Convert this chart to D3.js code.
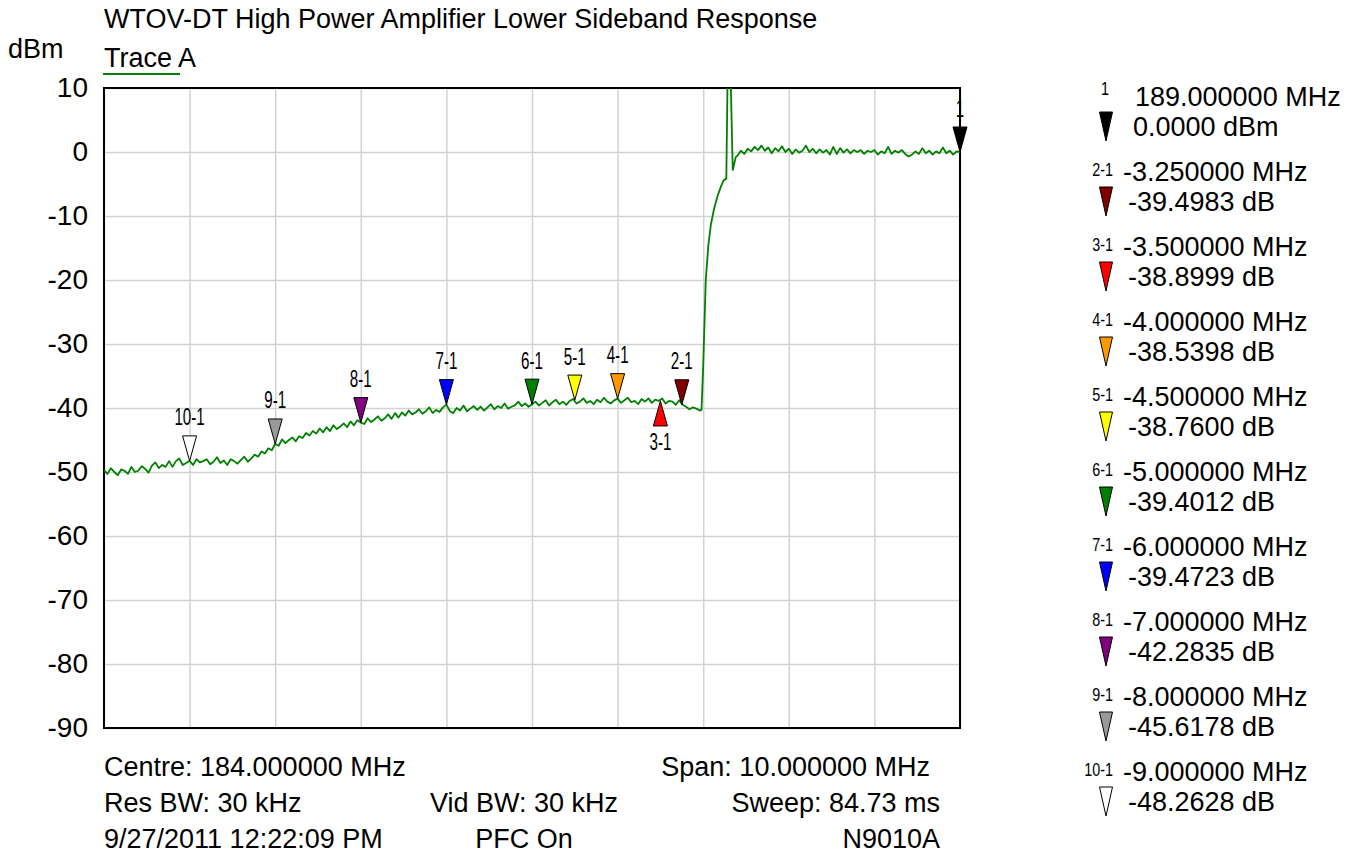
<!DOCTYPE html>
<html>
<head>
<meta charset="utf-8">
<script src="https://cdn.jsdelivr.net/npm/d3@7/dist/d3.min.js"></script>
<style>
  body { margin: 0; background: #fff; }
  svg text { font-family: "Liberation Sans", Arial, sans-serif; fill: #000; }
</style>
</head>
<body>
<div id="chart"></div>
<script>
/* trace A, dBm, one value every 0.04 MHz from 179.00 to 185.96 MHz */
var lowerBand = [
  -49.7, -50.3, -49.4, -50.0, -50.5, -49.6, -49.8, -50.3, -49.2, -50.0,
  -49.8, -49.1, -49.5, -50.1, -49.0, -48.5, -49.4, -48.9, -49.2, -48.3,
  -49.2, -48.3, -47.9, -48.9, -48.6, -48.26, -48.9, -48.0, -48.5, -48.3,
  -48.0, -48.8, -48.4, -47.7, -48.6, -48.2, -48.9, -48.0, -48.3, -48.7,
  -48.1, -47.6, -48.4, -47.9, -47.3, -47.6, -46.8, -47.1, -46.3, -46.6,
  -45.62, -45.9, -44.9, -45.5, -45.0, -44.6, -45.2, -44.4, -44.7, -43.9,
  -44.3, -43.6, -44.0, -43.2, -43.8, -43.0, -43.6, -42.7, -43.3, -42.9,
  -42.4, -43.0, -42.1, -42.7, -41.9, -42.28, -42.5, -41.6, -42.2, -41.8,
  -41.3, -42.0, -41.6, -41.0, -41.7, -40.8, -41.5, -40.7, -41.2, -40.4,
  -41.0, -40.7, -40.2, -40.9, -40.5, -39.9, -40.8, -40.3, -40.6, -39.9,
  -39.47, -40.5, -40.8, -40.0, -40.4, -39.6, -40.5, -40.1, -39.7, -40.3,
  -39.8, -40.4, -39.9, -39.4, -40.2, -39.7, -40.0, -39.3, -40.1, -39.8,
  -39.6, -39.0, -39.7, -39.3, -39.8, -39.40, -39.0, -39.6, -39.2, -38.8,
  -39.6, -39.1, -38.7, -39.4, -39.0, -39.5, -38.9, -38.6, -39.3, -39.0,
  -38.5, -39.2, -38.9, -39.4, -38.7, -39.1, -38.4, -39.0, -39.3, -38.8,
  -38.54, -39.2, -38.8, -38.4, -39.1, -38.9, -39.4, -38.6, -39.0, -38.5,
  -39.2, -38.7, -38.9, -38.5, -39.3, -38.9, -39.0, -39.5, -38.8, -39.5,
  -39.8, -40.2, -39.9, -40.1, -40.4
]

/* the sideband edge and the pilot spike, MHz / dBm pairs */
var edgeFreqs = [185.98, 186.00, 186.03, 186.06, 186.09, 186.13, 186.17, 186.21,
                 186.24, 186.27, 186.285, 186.32, 186.345, 186.36, 186.38]
var edgeLevels = [-40.3, -33.5, -20.0, -14.6, -11.3, -8.7, -6.8, -5.3,
                  -4.4, -4.2, 12, 12, -2.8, -2.0, -0.8]

/* trace A, dBm, one value every 0.04 MHz from 186.40 to 189.00 MHz */
var upperBand = [
  -0.6, 0.2, -0.3, 0.5, 0.1, 0.8, 0.3, 1.0, 0.2, 0.7,
  -0.2, 0.6, 0.1, 0.9, 0.0, 0.5, -0.3, 0.4, -0.1, 0.2,
  1.0, 0.0, 0.5, -0.2, 0.4, -0.1, 0.3, -0.4, 0.8, -0.3,
  0.6, -0.1, 0.4, -0.2, 0.3, 0.0, 0.3, -0.3, 0.2, 0.0,
  0.3, -0.4, 0.1, -0.2, 0.8, -0.3, 0.2, -0.1, 0.3, -0.3,
  -0.7, -0.4, 0.1, -0.3, 0.6, -0.2, 0.2, -0.4, 0.1, -0.2,
  0.7, -0.2, 0.2, -0.4, 0.1, 0.0
]

/* markers: marker 1 is the reference, the rest are deltas to it */
var markerNames = ["1", "2-1", "3-1", "4-1", "5-1", "6-1", "7-1", "8-1", "9-1", "10-1"]
var markerFreqs = [189.0, 185.75, 185.5, 185.0, 184.5, 184.0, 183.0, 182.0, 181.0, 180.0]
var markerLevels = [0.0, -39.4983, -38.8999, -38.5398, -38.7600, -39.4012, -39.4723, -42.2835, -45.6178, -48.2628]
var markerColors = ["#000000", "#800000", "#ff0000", "#ff9900", "#ffff00", "#008000", "#0000ff", "#800080", "#999999", "#ffffff"]
var markersBelow = ["3-1"]

var yTicks = [10, 0, -10, -20, -30, -40, -50, -60, -70, -80, -90]
var xGridFreqs = [179, 180, 181, 182, 183, 184, 185, 186, 187, 188, 189]

var titleText = "WTOV-DT High Power Amplifier Lower Sideband Response"
var footerLeft = ["Centre: 184.000000 MHz", "Res BW: 30 kHz", "9/27/2011 12:22:09 PM"]
var footerMid = ["", "Vid BW: 30 kHz", "PFC On"]
var footerRight = ["Span: 10.000000 MHz", "Sweep: 84.73 ms", "N9010A"]

/* layout */
var W = 1357, H = 857
var plot = { left: 104, top: 88, right: 960, bottom: 728 }
var traceColor = "#008000"

var x = d3.scaleLinear().domain([179, 189]).range([plot.left, plot.right])
var y = d3.scaleLinear().domain([-90, 10]).range([plot.bottom, plot.top])

/* build the trace points from the three pieces */
var trace = []
lowerBand.forEach(function(v, i) { trace.push({ f: 179 + i * 0.04, v: v }) })
edgeFreqs.forEach(function(f, i) { trace.push({ f: f, v: edgeLevels[i] }) })
upperBand.forEach(function(v, i) { trace.push({ f: 186.4 + i * 0.04, v: v }) })

var svg = d3.select("#chart").append("svg")
    .attr("width", W)
    .attr("height", H)

svg.append("defs").append("clipPath")
    .attr("id", "plot-clip")
  .append("rect")
    .attr("x", plot.left)
    .attr("y", plot.top)
    .attr("width", plot.right - plot.left)
    .attr("height", plot.bottom - plot.top)

/* grid */
svg.append("g")
    .attr("transform", "translate(0," + plot.bottom + ")")
    .call(d3.axisBottom(x).tickValues(xGridFreqs).tickSize(-(plot.bottom - plot.top)).tickFormat(""))
    .call(function(g) { g.select(".domain").remove() })
    .call(function(g) { g.selectAll(".tick line").attr("stroke", "#d2d2d2").attr("stroke-width", 1.5) })

svg.append("g")
    .attr("transform", "translate(" + plot.left + ",0)")
    .call(d3.axisLeft(y).tickValues(yTicks).tickSize(-(plot.right - plot.left)).tickPadding(16)
      .tickFormat(function(d) { return String(d) }))
    .call(function(g) { g.select(".domain").remove() })
    .call(function(g) { g.selectAll(".tick line").attr("stroke", "#d2d2d2").attr("stroke-width", 1.5) })
    .call(function(g) {
      g.selectAll(".tick text")
        .attr("font-size", 28)
        .attr("font-family", "Liberation Sans, Arial, sans-serif")
        .attr("fill", "#000")
    })

/* frame */
svg.append("rect")
    .attr("x", plot.left)
    .attr("y", plot.top)
    .attr("width", plot.right - plot.left)
    .attr("height", plot.bottom - plot.top)
    .attr("fill", "none")
    .attr("stroke", "#000")
    .attr("stroke-width", 2)

/* trace */
svg.append("path")
    .datum(trace)
    .attr("clip-path", "url(#plot-clip)")
    .attr("fill", "none")
    .attr("stroke", traceColor)
    .attr("stroke-width", 1.8)
    .attr("stroke-linejoin", "round")
    .attr("d", d3.line().x(function(d) { return x(d.f) }).y(function(d) { return y(d.v) }))

/* markers on the trace */
var markers = markerNames.map(function(n, i) {
  return { name: n, f: markerFreqs[i], v: markerLevels[i], color: markerColors[i],
           below: markersBelow.indexOf(n) >= 0, ref: i === 0 }
})

var triW = 7, triH = 25

var mk = svg.append("g").attr("class", "markers")
    .selectAll("g")
    .data(markers)
    .enter()
    .append("g")
    .attr("transform", function(d) { return "translate(" + x(d.f) + "," + y(d.v) + ")" })

mk.append("path")
    .attr("d", function(d) {
      var s = d.below ? 1 : -1
      return "M0,0L" + (-triW) + "," + (s * triH) + "L" + triW + "," + (s * triH) + "Z"
    })
    .attr("fill", function(d) { return d.color })
    .attr("stroke", "#000")
    .attr("stroke-width", 1)

mk.append("text")
    .attr("transform", function(d) {
      var ty = d.below ? triH + 24 : -triH - 10.5
      return "translate(0," + ty + ") scale(0.66,1)"
    })
    .attr("text-anchor", "middle")
    .attr("font-size", 23)
    .text(function(d) { return d.name })

/* marker table on the right */
var legend = svg.append("g").attr("class", "legend")
    .selectAll("g")
    .data(markers)
    .enter()
    .append("g")
    .attr("transform", function(d, i) { return "translate(0," + (106 + i * 75) + ")" })

legend.append("text")
    .attr("transform", function(d) {
      return d.ref ? "translate(1105,-11) scale(0.8,1)" : "translate(1113,-5) scale(0.8,1)"
    })
    .attr("text-anchor", function(d) { return d.ref ? "middle" : "end" })
    .attr("font-size", 18)
    .text(function(d) { return d.name })

legend.append("path")
    .attr("d", "M1099.5,6L1112.5,6L1106,35Z")
    .attr("fill", function(d) { return d.color })
    .attr("stroke", "#000")
    .attr("stroke-width", 1)

legend.append("text")
    .attr("x", function(d) { return d.ref ? 1135 : 1123 })
    .attr("font-size", 27)
    .text(function(d) {
      var f = d.ref ? d.f : d.f - markerFreqs[0]
      return f.toFixed(6) + " MHz"
    })

legend.append("text")
    .attr("x", function(d) { return d.ref ? 1133 : 1128 })
    .attr("y", 30)
    .attr("font-size", 27)
    .text(function(d) { return d.v.toFixed(4) + (d.ref ? " dBm" : " dB") })

/* titles */
svg.append("text")
    .attr("x", plot.left)
    .attr("y", 28)
    .attr("font-size", 27)
    .text(titleText)

svg.append("text")
    .attr("x", 8)
    .attr("y", 58)
    .attr("font-size", 27)
    .text("dBm")

svg.append("text")
    .attr("x", plot.left)
    .attr("y", 67)
    .attr("font-size", 27)
    .text("Trace A")

svg.append("line")
    .attr("x1", plot.left - 1)
    .attr("x2", 180)
    .attr("y1", 74)
    .attr("y2", 74)
    .attr("stroke", traceColor)
    .attr("stroke-width", 2)

/* instrument settings under the plot */
var rowY = [776, 812, 848]
var rightX = [930, 940, 940]

rowY.forEach(function(ry, r) {
  svg.append("text")
      .attr("x", plot.left)
      .attr("y", ry)
      .attr("font-size", 27)
      .text(footerLeft[r])
  svg.append("text")
      .attr("x", 524)
      .attr("y", ry)
      .attr("text-anchor", "middle")
      .attr("font-size", 27)
      .text(footerMid[r])
  svg.append("text")
      .attr("x", rightX[r])
      .attr("y", ry)
      .attr("text-anchor", "end")
      .attr("font-size", 27)
      .text(footerRight[r])
})
</script>
</body>
</html>
